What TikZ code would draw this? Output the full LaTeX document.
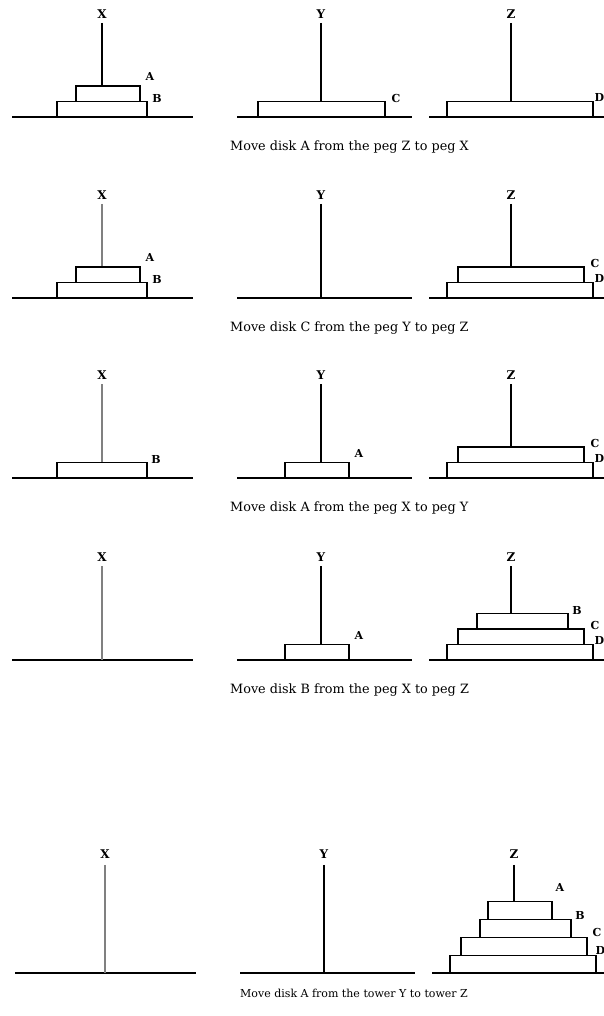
\documentclass[tikz,border=0pt]{standalone}
\usepackage{fontspec}
\setmainfont{DejaVu Serif}
\usepackage{tikz}
\usetikzlibrary{positioning}

\begin{document}
\begin{tikzpicture}[x=1pt,y=-1pt]
  \useasboundingbox (0,0) rectangle (604,1016);
  \newcommand{\diskh}{15.5}
  \tikzstyle{ground}=[line width=1.3pt]
  \tikzstyle{peg}=[line width=1.3pt]
  \tikzstyle{disk}=[draw,line width=1.3pt,fill=white]
  \tikzstyle{pegname}=[font=\fontsize{12}{12}\bfseries\selectfont,inner sep=0pt]
  \tikzstyle{diskname}=[font=\fontsize{11}{11}\bfseries\selectfont,inner sep=0pt]
  \tikzstyle{caption}=[font=\fontsize{12.8}{14}\selectfont,inner sep=0pt,anchor=west]
  \newcommand{\pegrow}[2]{
    \draw[ground] (12,117) -- (193,117) (237,117) -- (412,117) (429,117) -- (620,117);
    \foreach \p/\x in {X/102,Y/321,Z/511}{
      \coordinate (#1t\p) at (\x,23);
      \coordinate (#1b\p) at (\x,117);
      \node[pegname] (#1\p) at (\x,14) {\p};
    }
    \draw[peg,#2] (#1tX) -- (#1bX);
    \draw[peg] (#1tY) -- (#1bY);
    \draw[peg] (#1tZ) -- (#1bZ);
  }
  \newcommand{\hdisk}[7]{
    \draw[disk] (#2,{117-\diskh*#4}) rectangle (#3,{117-\diskh*(#4+1)});
    \node[diskname] (#1#5) at (#3+#6,{117-\diskh*(#4+1)-#7}) {#5};
  }

  \begin{scope}
    \pegrow{ra}{black}
    \foreach \l/\r/\lv/\n/\dx/\dy in {57/147/0/B/10/3.5,76/140/1/A/10/10,258/385/0/C/11/3.5,447/593/0/D/6.5/4.5}
      {\hdisk{ra}{\l}{\r}{\lv}{\n}{\dx}{\dy}}
  \end{scope}
  \node[caption] (capa) at (230,147) {Move disk A from the peg Z to peg X};

  \begin{scope}[yshift=-181pt]
    \pegrow{rb}{gray}
    \foreach \l/\r/\lv/\n/\dx/\dy in {57/147/0/B/10/3.5,76/140/1/A/10/10,447/593/0/D/6.5/4.5,458/584/1/C/11/4}
      {\hdisk{rb}{\l}{\r}{\lv}{\n}{\dx}{\dy}}
  \end{scope}
  \node[caption] (capb) at (230,328) {Move disk C from the peg Y to peg Z};

  \begin{scope}[yshift=-361pt]
    \pegrow{rc}{gray}
    \foreach \l/\r/\lv/\n/\dx/\dy in {57/147/0/B/9/3.5,285/349/0/A/10/9.5,447/593/0/D/6.5/4.5,458/584/1/C/11/4}
      {\hdisk{rc}{\l}{\r}{\lv}{\n}{\dx}{\dy}}
  \end{scope}
  \node[caption] (capc) at (230,508) {Move disk A from the peg X to peg Y};

  \begin{scope}[yshift=-543pt]
    \pegrow{rd}{gray}
    \foreach \l/\r/\lv/\n/\dx/\dy in {285/349/0/A/10/9.5,447/593/0/D/6.5/4.5,458/584/1/C/11/4,477/568/2/B/9/3.5}
      {\hdisk{rd}{\l}{\r}{\lv}{\n}{\dx}{\dy}}
  \end{scope}
  \node[caption] (capd) at (230,690) {Move disk B from the peg X to peg Z};

  \begin{scope}[shift={(3pt,-838.45pt)},yscale=1.15]
    \pegrow{re}{gray}
    \foreach \l/\r/\lv/\n/\dx/\dy in {447/593/0/D/4.3/4.5,458/584/1/C/10/4,477/568/2/B/9/3.5,485/549/3/A/8/12}
      {\hdisk{re}{\l}{\r}{\lv}{\n}{\dx}{\dy}}
  \end{scope}
  \node[caption,font=\fontsize{11}{13}\selectfont] (cape) at (240,993) {Move disk A from the tower Y to tower Z};
\end{tikzpicture}
\end{document}
